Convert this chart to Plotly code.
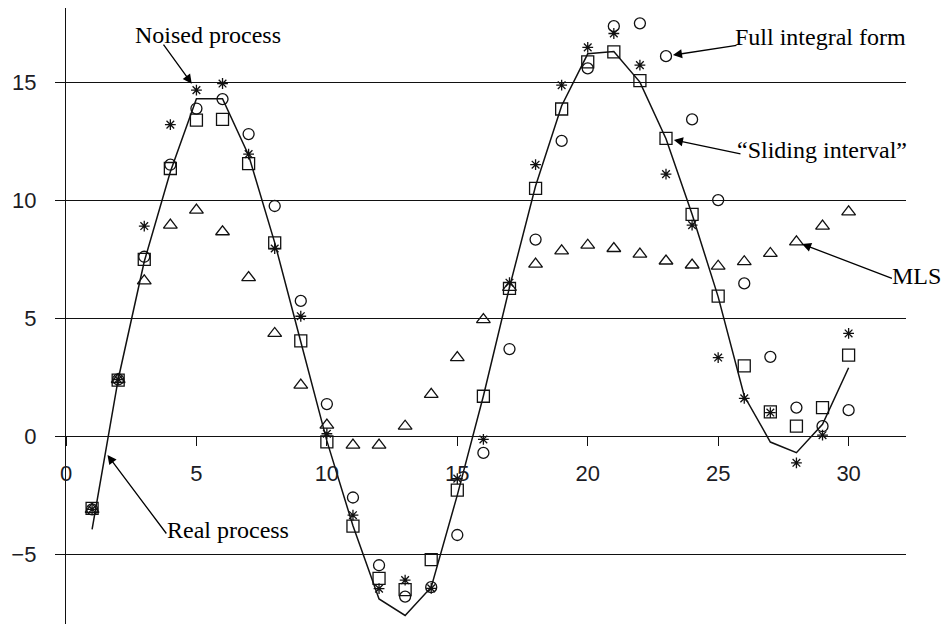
import plotly.graph_objects as go

# Sample index
t = list(range(1, 31))

# Real process (solid line)
real_process = [-3.95, 2.4, 7.4, 11.2, 14.3, 14.3, 11.9, 8.2, 4.0, -0.2,
                -3.8, -6.9, -7.6, -6.4, -2.5, 1.7, 6.3, 10.6, 14.0, 16.2,
                16.3, 15.0, 12.6, 9.4, 5.9, 1.7, -0.25, -0.7, 0.5, 2.9]

# Noised process (asterisks)
noised_process = [-3.1, 2.4, 8.9, 13.2, 14.66, 14.94, 11.95, 7.95, 5.08, 0.1,
                  -3.35, -6.46, -6.1, -6.45, -1.8, -0.14, 6.5, 11.5, 14.87, 16.47,
                  17.06, 15.72, 11.1, 8.94, 3.33, 1.6, 1.0, -1.13, 0.04, 4.35]

# Full integral form (circles)
full_integral = [-3.1, 2.4, 7.6, 11.5, 13.88, 14.28, 12.8, 9.75, 5.73, 1.36,
                 -2.6, -5.47, -6.8, -6.4, -4.19, -0.71, 3.69, 8.33, 12.51, 15.58,
                 17.37, 17.49, 16.1, 13.42, 10.0, 6.47, 3.36, 1.21, 0.42, 1.1]

# "Sliding interval" (squares)
sliding_interval = [-3.06, 2.37, 7.49, 11.34, 13.39, 13.42, 11.55, 8.19, 4.04, -0.24,
                    -3.81, -6.03, -6.5, -5.23, -2.29, 1.69, 6.26, 10.5, 13.86, 15.86,
                    16.28, 15.06, 12.62, 9.4, 5.93, 2.98, 1.03, 0.42, 1.21, 3.43]

# MLS (triangles)
mls = [-3.1, 2.4, 6.58, 8.94, 9.58, 8.66, 6.72, 4.35, 2.16, 0.47,
       -0.38, -0.38, 0.42, 1.77, 3.33, 4.94, 6.3, 7.29, 7.85, 8.09,
       7.95, 7.71, 7.42, 7.25, 7.2, 7.39, 7.74, 8.23, 8.9, 9.5]

x_ticks = [0, 5, 10, 15, 20, 25, 30]
y_ticks = [-5, 0, 5, 10, 15]
x_range = [0, 32.2]
y_range = [-7.96, 18.14]

INK = "#111111"
LABEL_FONT = dict(family="Liberation Serif, Times New Roman, serif", size=24, color="black")
TICK_FONT = dict(family="Liberation Sans, Arial, sans-serif", size=22, color="#1c1c24")

fig = go.Figure()

fig.add_trace(go.Scatter(x=t, y=real_process, mode="lines",
                         line=dict(color=INK, width=1.5), name="Real process"))


def marker_trace(values, symbol, size, name):
    return go.Scatter(x=t, y=values, mode="markers", name=name,
                      marker=dict(symbol=symbol, size=size, color=INK,
                                  line=dict(color=INK, width=1.3)))


fig.add_trace(marker_trace(mls, "triangle-up-open", 12, "MLS"))
fig.add_trace(marker_trace(full_integral, "circle-open", 11, "Full integral form"))
fig.add_trace(marker_trace(noised_process, "asterisk-open", 9, "Noised process"))
fig.add_trace(marker_trace(sliding_interval, "square-open", 12, "Sliding interval"))

# x axis crosses the value axis at zero
x_cross = (0 - y_range[0]) / (y_range[1] - y_range[0])

fig.update_layout(
    width=944, height=626,
    margin=dict(l=66, r=38, t=8, b=2),
    paper_bgcolor="white", plot_bgcolor="white",
    showlegend=False,
    xaxis=dict(range=x_range, tickvals=x_ticks, anchor="free", position=x_cross,
               showline=True, linecolor=INK, linewidth=1.3,
               ticks="outside", ticklen=9, tickwidth=1.3, tickcolor=INK,
               showgrid=False, zeroline=False, tickfont=TICK_FONT,
               ticklabelstandoff=8),
    yaxis=dict(range=y_range, tickvals=y_ticks,
               showline=True, linecolor=INK, linewidth=1.3,
               ticks="outside", ticklen=10, tickwidth=1.3, tickcolor=INK,
               showgrid=True, gridcolor=INK, gridwidth=1.3,
               zeroline=False, tickfont=TICK_FONT, ticklabelstandoff=14),
)

# Callout arrows (head at the marked point, tail offset in pixels)
arrows = [
    dict(x=5, y=noised_process[4], ax=-34, ay=-47, standoff=8),
    dict(x=1.59, y=-0.8, ax=60, ay=80, standoff=0),
    dict(x=23, y=full_integral[22], ax=72, ay=-11, standoff=7),
    dict(x=23, y=sliding_interval[22], ax=76, ay=16, standoff=8),
    dict(x=28, y=mls[27], ax=97, ay=37, standoff=6),
]
for a in arrows:
    fig.add_annotation(x=a["x"], y=a["y"], ax=a["ax"], ay=a["ay"], text="",
                       showarrow=True, arrowhead=2, arrowsize=1.4, arrowwidth=1.3,
                       arrowcolor="black", standoff=a["standoff"])

# Callout labels
labels = [
    ("Noised process", 2.58, 16.99),
    ("Real process", 3.8, -3.98),
    ("Full integral form", 25.55, 16.9),
    ("\u201cSliding interval\u201d", 25.65, 12.12),
    ("MLS", 31.6, 6.78),
]
for text, lx, ly in labels:
    fig.add_annotation(x=lx, y=ly, text=text, showarrow=False,
                       xanchor="left", yanchor="middle", font=LABEL_FONT)

fig.write_html("out.html")
